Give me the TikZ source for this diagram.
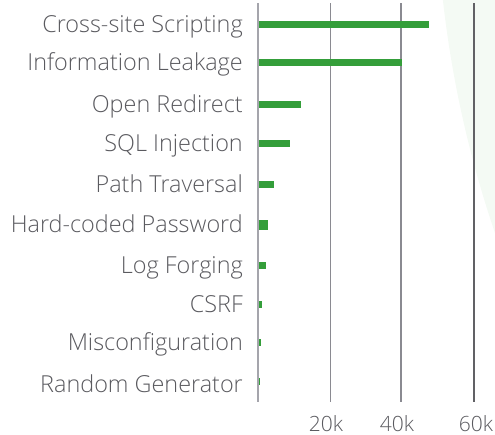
\documentclass[tikz,border=0pt]{standalone}
\usepackage{fontspec}
\setmainfont{Open Sans}[UprightFont=* Light]
\definecolor{barGreen}{RGB}{52,158,58}
\definecolor{bgGreen}{RGB}{244,250,244}
\definecolor{axisGray}{RGB}{165,165,172}
\definecolor{gridGray}{RGB}{138,138,145}
\definecolor{labelGray}{RGB}{90,90,95}
\tikzset{
  catlabel/.style={anchor=base east, inner sep=0pt, text=labelGray, font=\fontsize{23.4}{28}\selectfont},
  ticklabel/.style={anchor=base, inner sep=0pt, text=labelGray, font=\fontsize{21}{25}\selectfont},
  bar/.style={fill=barGreen, draw=none},
  gridline/.style={draw=gridGray, line width=1.5pt}
}
\begin{document}
\begin{tikzpicture}[x=1pt,y=-1pt]
    \useasboundingbox (0,0) rectangle (495,434);
    % faint circle in the background
    \begin{scope}
        \clip (0,0) rectangle (495,434);
        \fill [bgGreen] (1540,-124) circle (1104);
    \end{scope}

    % grid lines
    \draw [gridline] (330.5,3) -- (330.5,402);
    \draw [gridline] (401,3) -- (401,402);
    \draw [gridline, draw=gridGray!70!black] (474,3) -- (474,402);

    % bars
    \draw [bar] (257.5,21) rectangle (429,28);
    \draw [bar] (257.5,59) rectangle (401.5,66);
    \draw [bar] (257.5,101) rectangle (301,108);
    \draw [bar] (257.5,140) rectangle (290,147);
    \draw [bar] (257.5,181) rectangle (274,188);
    \draw [bar] (257.5,220) rectangle (268,230);
    \draw [bar] (257.5,262) rectangle (266,269);
    \draw [bar] (257.5,301) rectangle (262,308);
    \draw [bar] (257.5,339) rectangle (261,346);
    \draw [bar] (257.5,378) rectangle (260,385);

    % zero axis
    \draw [draw=axisGray, line width=2pt] (257.5,3) -- (257.5,402);

    % category labels
    \node [catlabel] (xss) at (243,32) {Cross-site Scripting};
    \node [catlabel] (leak) at (243,70.5) {Information Leakage};
    \node [catlabel] (redir) at (243,112) {Open Redirect};
    \node [catlabel] (sqli) at (243,151) {SQL Injection};
    \node [catlabel] (path) at (243,192) {Path Traversal};
    \node [catlabel] (pwd) at (243,232.5) {Hard-coded Password};
    \node [catlabel] (logf) at (243,273) {Log Forging};
    \node [catlabel] (csrf) at (243,312) {CSRF};
    \node [catlabel] (misconf) at (243,350.5) {Misconfiguration};
    \node [catlabel] (rand) at (243,392) {Random Generator};

    % tick labels
    \node [ticklabel] (t20) at (326,431) {20k};
    \node [ticklabel] (t40) at (397,431) {40k};
    \node [ticklabel] (t60) at (476,431) {60k};
\end{tikzpicture}
\end{document}
